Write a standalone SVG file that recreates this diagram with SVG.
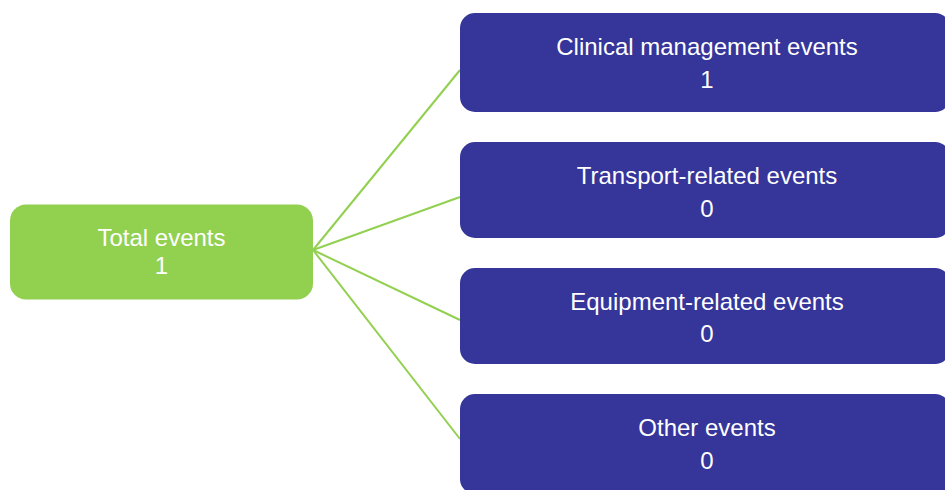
<svg xmlns="http://www.w3.org/2000/svg" width="945" height="490" viewBox="0 0 945 490">
<style>
.green{fill:#92D050}
.blue{fill:#35359A}
.t{font-family:"Liberation Sans",Arial,sans-serif;font-size:24px;fill:#FFFFFF;text-anchor:middle}
.c{stroke:#92D050;stroke-width:2;fill:none}
</style>
<rect width="945" height="490" fill="#FFFFFF"/>
<g id="connectors">
<line class="c" x1="313" y1="250" x2="460" y2="70"/>
<line class="c" x1="313" y1="250" x2="460" y2="197"/>
<line class="c" x1="313" y1="250" x2="460" y2="320"/>
<line class="c" x1="313" y1="250" x2="460" y2="439"/>
</g>
<g id="total">
<rect class="green" x="10" y="204.5" width="303" height="95" rx="16"/>
<text class="t" x="161.5" y="246">Total events</text>
<text class="t" x="161.5" y="274">1</text>
</g>
<g id="clinical">
<rect class="blue" x="460" y="13" width="490" height="99" rx="15"/>
<text class="t" x="707" y="55">Clinical management events</text>
<text class="t" x="707" y="87.5">1</text>
</g>
<g id="transport">
<rect class="blue" x="460" y="142" width="490" height="96" rx="15"/>
<text class="t" x="707" y="183.5">Transport-related events</text>
<text class="t" x="707" y="216.5">0</text>
</g>
<g id="equipment">
<rect class="blue" x="460" y="268" width="490" height="96" rx="15"/>
<text class="t" x="707" y="309.5">Equipment-related events</text>
<text class="t" x="707" y="342">0</text>
</g>
<g id="other">
<rect class="blue" x="460" y="394" width="490" height="100" rx="15"/>
<text class="t" x="707" y="436">Other events</text>
<text class="t" x="707" y="469">0</text>
</g>
</svg>
